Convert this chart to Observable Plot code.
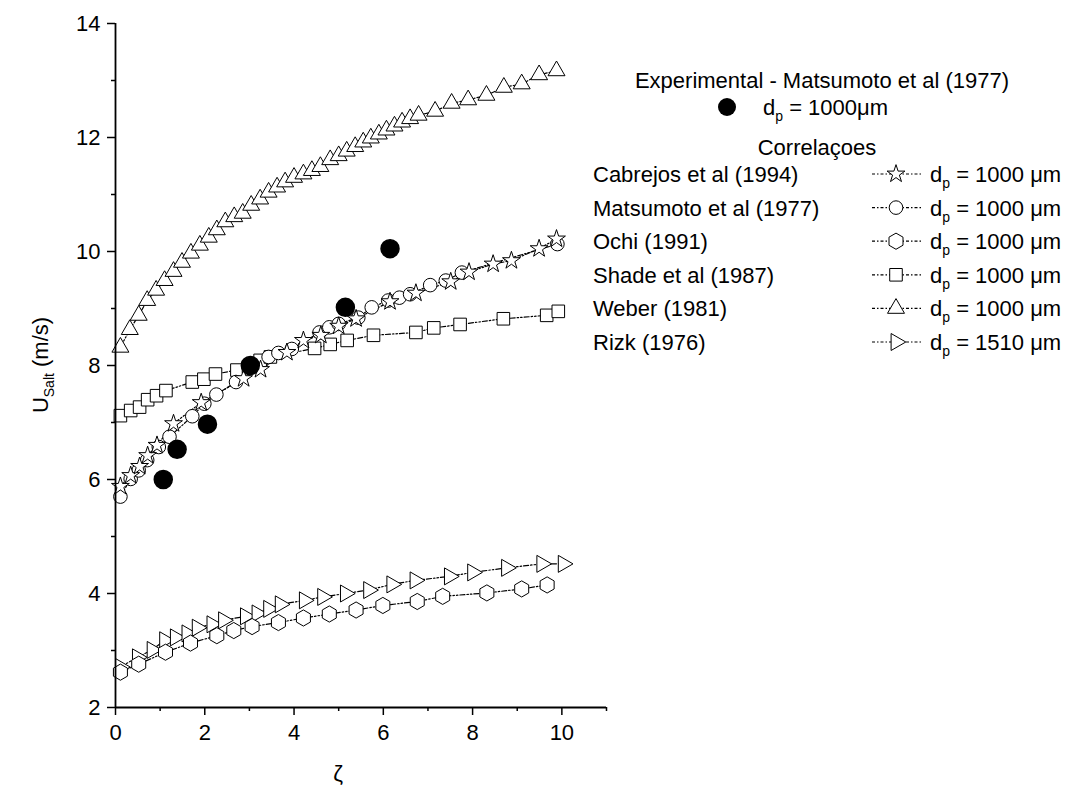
<!DOCTYPE html>
<html>
<head>
<meta charset="utf-8">
<script src="https://cdn.jsdelivr.net/npm/d3@7"></script>
<script src="https://cdn.jsdelivr.net/npm/@observablehq/plot@0.6"></script>
<style>
  body { margin: 0; background: #fff; }
  #chart svg { font-family: Arial, "Liberation Sans", sans-serif; }
</style>
</head>
<body>
<div id="chart"></div>
<script>
// ---- Data ----
const expX = [1.07, 1.38, 2.06, 3.02, 5.15, 6.15];
const expY = [6.00, 6.53, 6.97, 8.00, 9.02, 10.05];

const cabrejosX = [0.11,0.34,0.54,0.72,0.93,1.30,1.92,2.87,3.25,3.84,4.21,4.60,5.00,5.39,6.15,6.73,7.51,7.92,8.46,8.87,9.49,9.88];
const cabrejosY = [5.88,6.07,6.23,6.42,6.60,6.98,7.35,7.77,7.93,8.23,8.44,8.53,8.69,8.82,9.12,9.27,9.47,9.64,9.78,9.84,10.05,10.22];

const matsumotoX = [0.11,0.34,0.52,0.71,0.97,1.21,1.72,1.99,2.26,2.70,3.43,3.65,3.95,4.57,4.79,5.00,5.44,5.74,6.11,6.36,6.60,7.05,7.40,7.76,9.90];
const matsumotoY = [5.70,6.01,6.16,6.34,6.57,6.75,7.11,7.33,7.49,7.71,8.15,8.22,8.29,8.58,8.67,8.73,8.84,9.02,9.14,9.19,9.25,9.41,9.49,9.63,10.13];

const ochiX = [0.11,0.52,1.12,1.68,2.27,2.65,3.06,3.65,4.21,4.79,5.39,5.99,6.76,7.33,8.32,9.10,9.67];
const ochiY = [2.62,2.76,2.97,3.13,3.26,3.35,3.42,3.49,3.57,3.64,3.71,3.79,3.86,3.95,4.01,4.08,4.15];

const shadeX = [0.11,0.34,0.54,0.72,0.92,1.13,1.72,1.98,2.24,2.72,2.98,3.24,3.47,4.46,4.81,5.19,5.78,6.73,7.13,7.72,8.69,9.66,9.92];
const shadeY = [7.12,7.21,7.27,7.40,7.47,7.56,7.71,7.76,7.85,7.92,7.98,8.09,8.15,8.30,8.37,8.44,8.53,8.58,8.66,8.72,8.82,8.88,8.95];

const weberX = [0.11,0.32,0.52,0.71,0.91,1.10,1.30,1.49,1.69,1.89,2.09,2.27,2.46,2.66,2.85,3.04,3.24,3.43,3.62,3.80,4.00,4.21,4.40,4.59,4.81,5.00,5.18,5.37,5.55,5.72,5.90,6.07,6.25,6.42,6.60,6.79,7.16,7.53,7.90,8.31,8.70,9.10,9.49,9.88];
const weberY = [8.32,8.63,8.88,9.14,9.32,9.49,9.65,9.81,9.97,10.11,10.25,10.38,10.52,10.61,10.67,10.81,10.92,11.04,11.13,11.22,11.30,11.36,11.42,11.49,11.61,11.68,11.76,11.84,11.92,11.99,12.06,12.13,12.20,12.27,12.33,12.39,12.46,12.60,12.66,12.74,12.88,12.94,13.10,13.17];

const rizkX = [0.11,0.49,0.82,1.10,1.34,1.60,1.83,2.16,2.42,2.91,3.17,3.43,3.69,4.23,4.64,5.15,5.67,6.19,6.71,7.48,8.00,8.76,9.55,10.03];
const rizkY = [2.71,2.88,3.01,3.18,3.23,3.30,3.40,3.46,3.53,3.60,3.65,3.73,3.81,3.88,3.94,4.00,4.06,4.16,4.23,4.30,4.37,4.45,4.52,4.52];

const seriesNames = ["Cabrejos et al (1994)", "Matsumoto et al (1977)", "Ochi (1991)", "Shade et al (1987)", "Weber (1981)", "Rizk (1976)"];
const seriesDp = ["1000", "1000", "1000", "1000", "1000", "1510"];

const yTicks = [2, 4, 6, 8, 10, 12, 14];
const yMinor = [3, 5, 7, 9, 11, 13];
const xTicks = [0, 2, 4, 6, 8, 10];
const xMinor = [1, 3, 5, 7, 9, 11];

// ---- Build tables ----
const zip = (xs, ys) => xs.map((x, i) => ({x, y: ys[i]}));
const series = [
  {name: seriesNames[5], dp: seriesDp[5], data: zip(rizkX, rizkY), symbol: "triangle", r: 6.3, rotate: 90},
  {name: seriesNames[2], dp: seriesDp[2], data: zip(ochiX, ochiY), symbol: "hexagon", r: 7, rotate: 0},
  {name: seriesNames[4], dp: seriesDp[4], data: zip(weberX, weberY), symbol: "triangle", r: 6.3, rotate: 0},
  {name: seriesNames[3], dp: seriesDp[3], data: zip(shadeX, shadeY), symbol: "square", r: 7.1, rotate: 0},
  {name: seriesNames[1], dp: seriesDp[1], data: zip(matsumotoX, matsumotoY), symbol: "circle", r: 6.8, rotate: 0},
  {name: seriesNames[0], dp: seriesDp[0], data: zip(cabrejosX, cabrejosY), symbol: "star", r: 5.6, rotate: 0}
];
const expData = zip(expX, expY);

const dash = "5,2,1.5,2,1.5,2";

const marks = [];
for (const s of series) {
  marks.push(Plot.line(s.data, {x: "x", y: "y", stroke: "black", strokeWidth: 1.2, strokeDasharray: dash}));
}
for (const s of series) {
  marks.push(Plot.dot(s.data, {x: "x", y: "y", symbol: s.symbol, r: s.r, rotate: s.rotate, fill: "white", stroke: "black", strokeWidth: 1}));
}
marks.push(Plot.dot(expData, {x: "x", y: "y", r: 9, fill: "black", stroke: "black"}));

marks.push(Plot.axisY({ticks: yMinor, tickSize: 4, tickFormat: () => "", strokeWidth: 1.5, label: null}));
marks.push(Plot.axisY({ticks: yTicks, tickSize: 8, tickPadding: 7, fontSize: 22, strokeWidth: 1.5, label: null}));
marks.push(Plot.axisX({ticks: xMinor, tickSize: 4, tickFormat: () => "", strokeWidth: 1.5, label: null}));
marks.push(Plot.axisX({ticks: xTicks, tickSize: 8, tickPadding: 9, fontSize: 22, strokeWidth: 1.5, label: null}));
marks.push(Plot.ruleX([0], {stroke: "black", strokeWidth: 1.8}));
marks.push(Plot.ruleY([2], {stroke: "black", strokeWidth: 1.8}));

const plot = Plot.plot({
  width: 1071,
  height: 787,
  marginLeft: 115,
  marginRight: 465,
  marginTop: 23,
  marginBottom: 80,
  x: {domain: [0, 11]},
  y: {domain: [2, 14]},
  style: {background: "white", color: "black", fontFamily: "Arial, 'Liberation Sans', sans-serif", fontSize: "22px"},
  marks
});
document.getElementById("chart").appendChild(plot);

// ---- Axis titles and legend ----
const svg = d3.select(plot);
const fs = 22;
const sub = 14;

// y title
const yt = svg.append("text")
  .attr("transform", "translate(48,365) rotate(-90)")
  .attr("text-anchor", "middle")
  .attr("font-size", fs)
  .attr("fill", "black");
yt.append("tspan").text("U");
yt.append("tspan").attr("font-size", sub).attr("dy", 6).text("Salt");
yt.append("tspan").attr("dy", -6).text(" (m/s)");

// x title
svg.append("text")
  .attr("x", 338).attr("y", 781)
  .attr("text-anchor", "middle")
  .attr("font-size", fs)
  .attr("fill", "black")
  .text("ζ");

const lg = svg.append("g").attr("font-size", fs).attr("fill", "black").attr("text-anchor", "start");
function dpText(sel, x, y, value, sep) {
  const t = sel.append("text").attr("x", x).attr("y", y).attr("text-anchor", "start");
  t.append("tspan").text("d");
  t.append("tspan").attr("font-size", sub).attr("dy", 6).text("p");
  t.append("tspan").attr("dy", -6).text(" = " + value + sep + "μm");
}

lg.append("text").attr("x", 822).attr("y", 88).attr("text-anchor", "middle")
  .text("Experimental - Matsumoto et al (1977)");
lg.append("circle").attr("cx", 727).attr("cy", 107).attr("r", 9).attr("fill", "black");
dpText(lg, 763, 115, "1000", "");

lg.append("text").attr("x", 817).attr("y", 155).attr("text-anchor", "middle").text("Correlaçoes");

const symMap = {
  star: d3.symbolStar, circle: d3.symbolCircle, square: d3.symbolSquare, triangle: d3.symbolTriangle,
  hexagon: {
    draw(ctx, size) {
      const rx = Math.sqrt(size / Math.PI), ry = rx * 2 / Math.sqrt(3), hy = ry / 2;
      ctx.moveTo(0, ry); ctx.lineTo(rx, hy); ctx.lineTo(rx, -hy);
      ctx.lineTo(0, -ry); ctx.lineTo(-rx, -hy); ctx.lineTo(-rx, hy); ctx.closePath();
    }
  }
};
const legendOrder = [5, 4, 1, 3, 2, 0]; // Cabrejos, Matsumoto, Ochi, Shade, Weber, Rizk
legendOrder.forEach((si, i) => {
  const s = series[si];
  const y = 174 + i * 33.6;
  lg.append("text").attr("x", 593).attr("y", y + 8).attr("text-anchor", "start").text(s.name);
  lg.append("line").attr("x1", 872).attr("x2", 923).attr("y1", y).attr("y2", y)
    .attr("stroke", "black").attr("stroke-width", 1.2).attr("stroke-dasharray", "3,2,1.5,2");
  lg.append("path")
    .attr("d", d3.symbol(symMap[s.symbol], Math.PI * s.r * s.r)())
    .attr("transform", `translate(896,${y}) rotate(${s.rotate})`)
    .attr("fill", "white").attr("stroke", "black").attr("stroke-width", 1);
  dpText(lg, 930, y + 8, s.dp, " ");
});
</script>
</body>
</html>
